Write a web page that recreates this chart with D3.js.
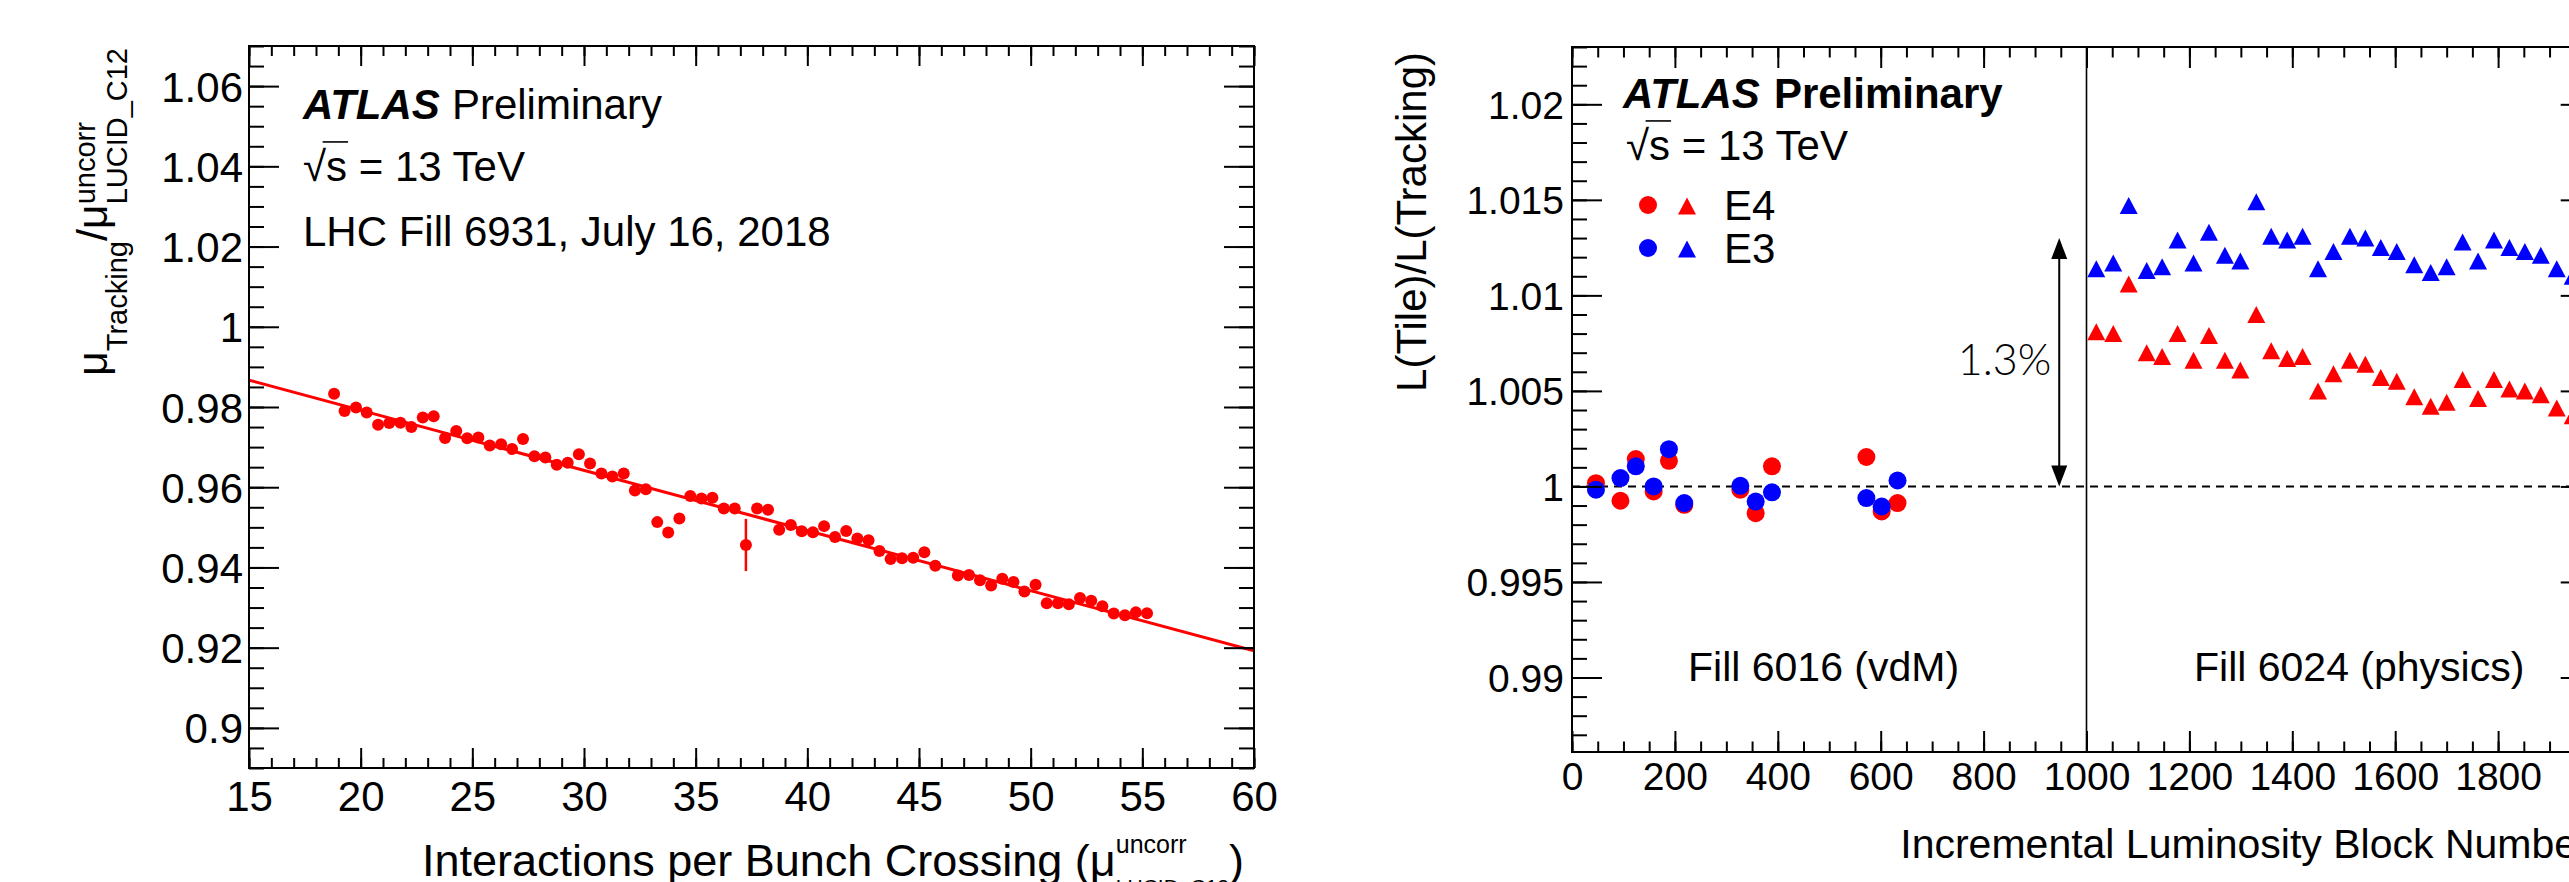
<!DOCTYPE html>
<html>
<head>
<meta charset="utf-8">
<script src="https://cdn.jsdelivr.net/npm/d3@7"></script>
<style>
  body { margin: 0; background: #fff; }
  svg { display: block; }
  text { white-space: pre; }
</style>
</head>
<body>
<script>
// ---- left panel: mu(Tracking)/mu(LUCID) vs pile-up, fill 6931 ----
const muX = [18.81, 19.28, 19.79, 20.27, 20.78, 21.28, 21.78, 22.27, 22.78, 23.27,
  23.78, 24.28, 24.77, 25.27, 25.78, 26.29, 26.78, 27.27, 27.78, 28.27,
  28.78, 29.27, 29.77, 30.27, 30.78, 31.27, 31.78, 32.28, 32.77, 33.28,
  33.77, 34.27, 34.76, 35.26, 35.75, 36.26, 36.75, 37.25, 37.75, 38.24,
  38.74, 39.26, 39.75, 40.25, 40.75, 41.24, 41.74, 42.24, 42.74, 43.23,
  43.73, 44.24, 44.74, 45.24, 45.73, 46.74, 47.24, 47.73, 48.23, 48.73,
  49.23, 49.72, 50.22, 50.72, 51.22, 51.71, 52.21, 52.71, 53.21, 53.72,
  54.22, 54.71, 55.21];
const muRatio = [0.9833, 0.9790, 0.9799, 0.9786, 0.9756, 0.9760, 0.9761, 0.9750, 0.9774, 0.9777,
  0.9723, 0.9740, 0.9722, 0.9724, 0.9704, 0.9707, 0.9695, 0.9720, 0.9677, 0.9674,
  0.9656, 0.9661, 0.9682, 0.9659, 0.9634, 0.9627, 0.9634, 0.9592, 0.9595, 0.9513,
  0.9487, 0.9522, 0.9578, 0.9572, 0.9574, 0.9547, 0.9547, 0.9456, 0.9547, 0.9544,
  0.9494, 0.9506, 0.9490, 0.9488, 0.9503, 0.9476, 0.9491, 0.9472, 0.9468, 0.9441,
  0.9421, 0.9423, 0.9424, 0.9438, 0.9404, 0.9380, 0.9381, 0.9368, 0.9355, 0.9372,
  0.9364, 0.9340, 0.9357, 0.9311, 0.9311, 0.9308, 0.9324, 0.9317, 0.9303, 0.9285,
  0.9281, 0.9288, 0.9286];
// only the low-statistics point has a visible error bar
const muErrX = [37.25];
const muErrLo = [0.9391];
const muErrHi = [0.9521];
const fitX = [15, 60];
const fitY = [0.9867, 0.9192];

const leftXMajor = [15, 20, 25, 30, 35, 40, 45, 50, 55, 60];
const leftYMajor = [0.9, 0.92, 0.94, 0.96, 0.98, 1.0, 1.02, 1.04, 1.06];

// ---- right panel: L(Tile)/L(Tracking), fills 6016 (vdM) and 6024 (physics) ----
const vdmLB = [46.6, 94.2, 124, 158.7, 188.4, 218.2, 327.2, 357, 388.7, 572.2, 601.9, 632.7];
const vdmE4 = [1.00017, 0.99925, 1.00143, 0.99974, 1.00134, 0.99904, 0.99983, 0.99860, 1.00105, 1.00154, 0.99869, 0.99913];
const vdmE3 = [0.99983, 1.00044, 1.00105, 1.00000, 1.00195, 0.99913, 1.00003, 0.99921, 0.99969, 0.99939, 0.99895, 1.00031];

const physLB = [1019, 1052, 1082, 1117, 1147, 1177, 1208, 1238, 1269, 1299,
  1330, 1359, 1390, 1420, 1450, 1480, 1512, 1542, 1572, 1603,
  1637, 1669, 1700, 1731, 1761, 1792, 1822, 1852, 1883, 1914, 1945];
const physE3 = [1.0114, 1.0117, 1.0147, 1.0113, 1.0115, 1.0129, 1.0117, 1.0133, 1.0121, 1.0118,
  1.0149, 1.0131, 1.0129, 1.0131, 1.0114, 1.0123, 1.0131, 1.0130, 1.0125, 1.0123,
  1.0116, 1.0112, 1.0115, 1.0128, 1.0118, 1.0129, 1.0125, 1.0123, 1.0121, 1.0114, 1.0110];
const physE4 = [1.0081, 1.0080, 1.0106, 1.0070, 1.0068, 1.0080, 1.0066, 1.0079, 1.0066, 1.0061,
  1.0090, 1.0071, 1.0067, 1.0068, 1.0050, 1.0059, 1.0066, 1.0064, 1.0057, 1.0055,
  1.0047, 1.0042, 1.0044, 1.0056, 1.0046, 1.0056, 1.0051, 1.0050, 1.0048, 1.0041, 1.0037];

const rightXMajor = [0, 200, 400, 600, 800, 1000, 1200, 1400, 1600, 1800];
const rightYMajor = [0.99, 0.995, 1.0, 1.005, 1.01, 1.015, 1.02];
const fillSplit = 1000;
const arrowLB = 947;
const arrowY = [1.0, 1.013];

const RED = '#ff0000', BLUE = '#0000ff';
const FONT = '"Liberation Sans", Arimo, Helvetica, Arial, sans-serif';

const svg = d3.select('body').append('svg')
  .attr('width', 2569).attr('height', 882)
  .style('font-family', FONT);

// text made of pieces, sub/superscripts stacked like TLatex
function rich(parent, x, y, parts, opt = {}) {
  let tr = `translate(${x},${y})`;
  if (opt.rotate) tr += ` rotate(${opt.rotate})`;
  const g = parent.append('g').attr('transform', tr);
  const inner = g.append('g');
  let cx = 0, stackX = 0;
  parts.forEach(p => {
    const sx0 = p.stack ? stackX : cx;
    const t = inner.append('text')
      .attr('x', sx0).attr('y', p.dy || 0)
      .attr('font-size', p.size)
      .attr('font-weight', p.weight || (p.bold ? 'bold' : null))
      .attr('font-style', p.italic ? 'italic' : null)
      .attr('font-family', p.family || null)
      .attr('fill', '#000')
      .text(p.t);
    const w = t.node().getComputedTextLength();
    if (p.stack) cx = Math.max(cx, sx0 + w);
    else { stackX = sx0; cx = sx0 + w + (p.gap || 0); }
  });
  if (opt.anchor === 'end') inner.attr('transform', `translate(${-cx},0)`);
  return g;
}

// sqrt(s) = 13 TeV with the bar over s
function sqrtS(parent, x, y, size) {
  const g = parent.append('g').attr('transform', `translate(${x},${y})`);
  const r = g.append('text').attr('font-size', size).text('√');
  const wr = r.node().getComputedTextLength();
  const s = g.append('text').attr('x', wr).attr('font-size', size).text('s');
  const ws = s.node().getComputedTextLength();
  g.append('text').attr('x', wr + ws).attr('font-size', size).text(' = 13 TeV');
  g.append('line').attr('x1', wr * 0.85).attr('x2', wr + ws + 1)
    .attr('y1', -size * 0.93).attr('y2', -size * 0.93)
    .attr('stroke', '#000').attr('stroke-width', 1.6);
}

function triPath(w, h) {
  return `M0,${-h / 2}L${w / 2},${h / 2}L${-w / 2},${h / 2}Z`;
}

function frameAxes(g, x, y, o) {
  const [x0, x1] = x.range();
  const [y1, y0] = y.range();
  const styleTicks = sel => {
    sel.select('.domain').remove();
    sel.selectAll('.tick line').attr('stroke', '#000').attr('stroke-width', 2);
  };
  const xMinor = x.ticks(o.xMinorN), yMinor = y.ticks(o.yMinorN);
  // bottom
  const bx = g.append('g').attr('transform', `translate(0,${y1})`)
    .call(d3.axisBottom(x).tickValues(o.xMajor).tickSize(-o.xLen).tickFormat(d => d));
  styleTicks(bx);
  bx.selectAll('.tick text')
    .attr('y', o.xLabelY).attr('dy', null)
    .attr('font-size', o.tickSize).attr('font-family', FONT).attr('fill', '#000');
  g.append('g').attr('transform', `translate(0,${y1})`)
    .call(d3.axisBottom(x).tickValues(xMinor).tickSize(-o.xLen / 2).tickFormat(''))
    .call(styleTicks);
  // top
  g.append('g').attr('transform', `translate(0,${y0})`)
    .call(d3.axisTop(x).tickValues(o.xMajor).tickSize(-o.xLen).tickFormat(''))
    .call(styleTicks);
  g.append('g').attr('transform', `translate(0,${y0})`)
    .call(d3.axisTop(x).tickValues(xMinor).tickSize(-o.xLen / 2).tickFormat(''))
    .call(styleTicks);
  // left
  const ly = g.append('g').attr('transform', `translate(${x0},0)`)
    .call(d3.axisLeft(y).tickValues(o.yMajor).tickSize(-o.yLen).tickFormat(d => +d.toFixed(3)));
  styleTicks(ly);
  ly.selectAll('.tick text')
    .attr('x', -o.yLabelGap).attr('y', o.yLabelDy).attr('dy', null)
    .attr('font-size', o.tickSize).attr('font-family', FONT).attr('fill', '#000');
  g.append('g').attr('transform', `translate(${x0},0)`)
    .call(d3.axisLeft(y).tickValues(yMinor).tickSize(-o.yLen / 2).tickFormat(''))
    .call(styleTicks);
  // right
  g.append('g').attr('transform', `translate(${x1},0)`)
    .call(d3.axisRight(y).tickValues(o.yMajor).tickSize(-o.yLen).tickFormat(''))
    .call(styleTicks);
  g.append('g').attr('transform', `translate(${x1},0)`)
    .call(d3.axisRight(y).tickValues(yMinor).tickSize(-o.yLen / 2).tickFormat(''))
    .call(styleTicks);
  g.append('rect').attr('x', x0).attr('y', y0).attr('width', x1 - x0).attr('height', y1 - y0)
    .attr('fill', 'none').attr('stroke', '#000').attr('stroke-width', 2);
}

// ================= LEFT PANEL =================
const xL = d3.scaleLinear().domain([15, 60]).range([249, 1254]);
const yL = d3.scaleLinear().domain([0.89, 1.07]).range([768, 46]);
const gL = svg.append('g');

gL.append('clipPath').attr('id', 'clipL').append('rect')
  .attr('x', 249).attr('y', 46).attr('width', 1254 - 249).attr('height', 768 - 46);

gL.append('line').attr('clip-path', 'url(#clipL)')
  .attr('x1', xL(fitX[0])).attr('y1', yL(fitY[0]))
  .attr('x2', xL(fitX[1])).attr('y2', yL(fitY[1]))
  .attr('stroke', RED).attr('stroke-width', 3);

gL.selectAll('.err').data(muErrX).join('line')
  .attr('x1', d => xL(d)).attr('x2', d => xL(d))
  .attr('y1', (d, i) => yL(muErrLo[i])).attr('y2', (d, i) => yL(muErrHi[i]))
  .attr('stroke', RED).attr('stroke-width', 2.5);

gL.selectAll('.pt').data(muX).join('circle')
  .attr('cx', d => xL(d)).attr('cy', (d, i) => yL(muRatio[i]))
  .attr('r', 6).attr('fill', RED);

frameAxes(gL, xL, yL, {
  xMajor: leftXMajor, yMajor: leftYMajor, xMinorN: 45, yMinorN: 36,
  xLen: 20, yLen: 30, tickSize: 42, xLabelY: 43, yLabelGap: 6, yLabelDy: 15
});

rich(gL, 303, 119, [
  { t: 'ATLAS', size: 42, bold: true, italic: true, gap: 12 },
  { t: 'Preliminary', size: 42 }
]);
sqrtS(gL, 303, 181, 42);
rich(gL, 303, 246, [{ t: 'LHC Fill 6931, July 16, 2018', size: 42 }]);

rich(gL, 1244, 876, [
  { t: 'Interactions per Bunch Crossing (μ', size: 45 },
  { t: 'uncorr', size: 25, dy: -23 },
  { t: 'LUCID_C12', size: 21, dy: 18, stack: true },
  { t: ')', size: 45 }
], { anchor: 'end' });

rich(gL, 107, 48, [
  { t: 'μ', size: 43 },
  { t: 'Tracking', size: 29, dy: 20 },
  { t: '/', size: 43 },
  { t: 'μ', size: 43 },
  { t: 'uncorr', size: 29, dy: -12 },
  { t: 'LUCID_C12', size: 29, dy: 20, stack: true }
], { rotate: -90, anchor: 'end' });

// ================= RIGHT PANEL =================
const rightMax = 1980;
const xR = d3.scaleLinear().domain([0, rightMax]).range([1572, 1572 + rightMax * 0.5145]);
const yR = d3.scaleLinear().domain([0.9861, 1.0230]).range([752, 47]);
const gR = svg.append('g');

gR.append('line')
  .attr('x1', xR(0)).attr('x2', xR(rightMax)).attr('y1', yR(1)).attr('y2', yR(1))
  .attr('stroke', '#000').attr('stroke-width', 2).attr('stroke-dasharray', '8,6');

gR.append('line')
  .attr('x1', xR(fillSplit)).attr('x2', xR(fillSplit)).attr('y1', yR.range()[0]).attr('y2', yR.range()[1])
  .attr('stroke', '#000').attr('stroke-width', 1.6);

// 1.3% double arrow
const ax = xR(arrowLB), ayLo = yR(arrowY[0]), ayHi = yR(arrowY[1]);
gR.append('line').attr('x1', ax).attr('x2', ax).attr('y1', ayLo - 18).attr('y2', ayHi + 18)
  .attr('stroke', '#000').attr('stroke-width', 2);
gR.append('path').attr('d', `M${ax},${ayHi}L${ax + 8},${ayHi + 21}L${ax - 8},${ayHi + 21}Z`).attr('fill', '#000');
gR.append('path').attr('d', `M${ax},${ayLo}L${ax + 8},${ayLo - 21}L${ax - 8},${ayLo - 21}Z`).attr('fill', '#000');
rich(gR, ax - 8, 375, [{ t: '1.3%', size: 43, weight: 300, family: 'Lato, Roboto, "DejaVu Sans", sans-serif' }], { anchor: 'end' });

gR.selectAll('.cE4').data(vdmLB).join('circle')
  .attr('cx', d => xR(d)).attr('cy', (d, i) => yR(vdmE4[i])).attr('r', 9).attr('fill', RED);
gR.selectAll('.cE3').data(vdmLB).join('circle')
  .attr('cx', d => xR(d)).attr('cy', (d, i) => yR(vdmE3[i])).attr('r', 9).attr('fill', BLUE);

gR.selectAll('.tE3').data(physLB).join('path')
  .attr('transform', (d, i) => `translate(${xR(d)},${yR(physE3[i])})`)
  .attr('d', triPath(18, 17)).attr('fill', BLUE);
gR.selectAll('.tE4').data(physLB).join('path')
  .attr('transform', (d, i) => `translate(${xR(d)},${yR(physE4[i])})`)
  .attr('d', triPath(18, 17)).attr('fill', RED);

frameAxes(gR, xR, yR, {
  xMajor: rightXMajor, yMajor: rightYMajor, xMinorN: 40, yMinorN: 37,
  xLen: 21, yLen: 30, tickSize: 39, xLabelY: 38, yLabelGap: 8, yLabelDy: 14
});

rich(gR, 1623, 108, [
  { t: 'ATLAS', size: 42, bold: true, italic: true, gap: 14 },
  { t: 'Preliminary', size: 42, bold: true }
]);
sqrtS(gR, 1626, 160, 42);

// legend
const legend = [{ label: 'E4', color: RED, y: 205 }, { label: 'E3', color: BLUE, y: 248 }];
legend.forEach(l => {
  gR.append('circle').attr('cx', 1648).attr('cy', l.y).attr('r', 9).attr('fill', l.color);
  gR.append('path').attr('transform', `translate(1687,${l.y + 1})`).attr('d', triPath(18, 17)).attr('fill', l.color);
  rich(gR, 1724, l.y + 15, [{ t: l.label, size: 42 }]);
});

rich(gR, 1688, 681, [{ t: 'Fill 6016 (vdM)', size: 41 }]);
rich(gR, 2194, 681, [{ t: 'Fill 6024 (physics)', size: 41 }]);

rich(gR, xR(rightMax), 858, [{ t: 'Incremental Luminosity Block Number', size: 41 }], { anchor: 'end' });
rich(gR, 1426, 52, [{ t: 'L(Tile)/L(Tracking)', size: 42 }], { rotate: -90, anchor: 'end' });
</script>
</body>
</html>
